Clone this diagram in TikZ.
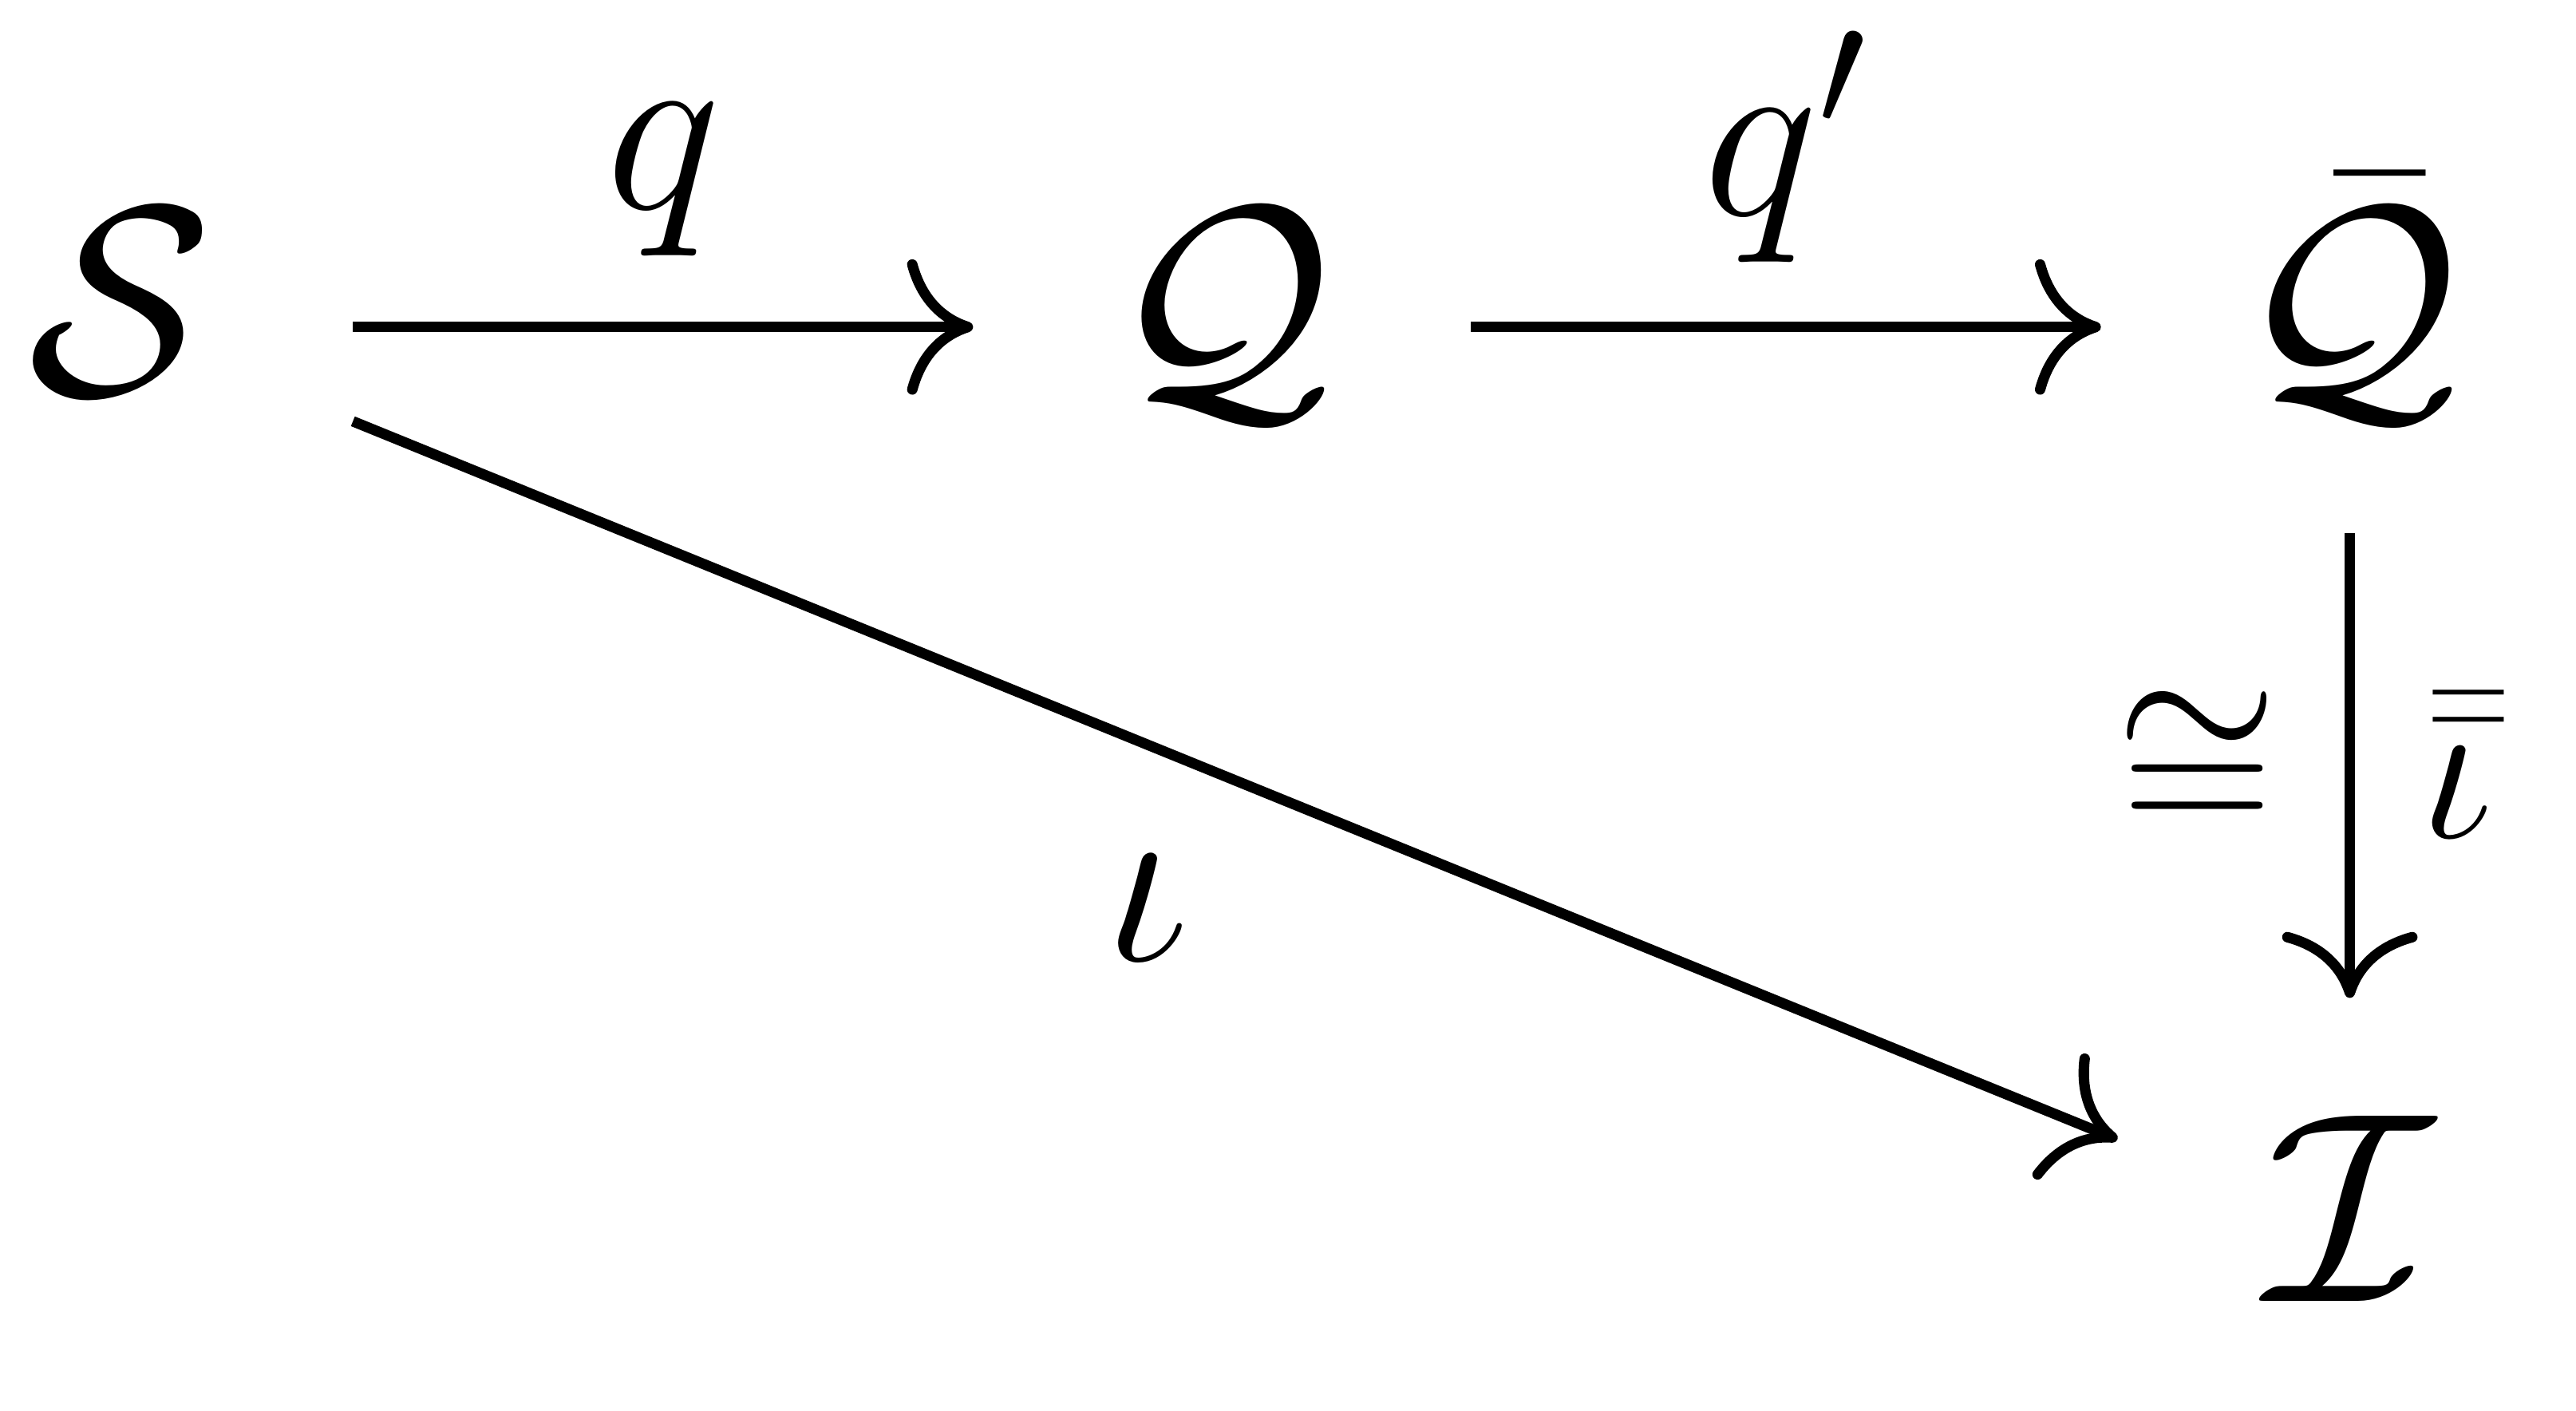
\RequirePackage{fix-cm}
\documentclass[tikz,border=0pt]{standalone}
\usepackage{amsmath}
\usepackage{tikz}
\usetikzlibrary{arrows.meta}
\tikzstyle{object} = [font=\fontsize{46.7}{56}\selectfont, rectangle, inner sep=0pt, text height=32.7pt, text depth=9.3pt, minimum width=3cm, minimum height=2.48cm]
\tikzstyle{maplabel} = [font=\fontsize{42}{50}\selectfont, inner sep=0.4cm]
\tikzstyle{sidelabel} = [font=\fontsize{36}{43}\selectfont, inner sep=0.4cm]
\tikzstyle{arrow} = [line width=1.8pt, -{Computer Modern Rightarrow[length=4mm,width=8.2mm]}]

\begin{document}
\begin{tikzpicture}
  \useasboundingbox (-0.73,-6.56) rectangle (14.87,1.98);
  \node (S) [object, minimum width=2.8cm] {$\mathcal{S}$};
  \node (Q) [object, right of=S, xshift=5.67cm] {$\mathcal{Q}$};
  \node (Qbar) [object, right of=Q, xshift=5.83cm] {$\bar{\mathcal{Q}}$};
  \node (I) [object, below of=Qbar, yshift=-4.49cm, minimum width=2.8cm, minimum height=2.84cm] {$\mathcal{I}$};
  \draw[arrow](S) -- node[maplabel, above]{$q$} (Q);
  \draw[arrow](Q) -- node[maplabel, above, inner sep=0.36cm]{$q'$} (Qbar);
  \draw[arrow](Qbar) -- node[sidelabel, left]{$\cong$} node[sidelabel, right]{$\bar{\bar{\iota}}$} (I);
  \draw[arrow](S) -- node[maplabel, below=0.24cm, pos=0.45]{$\iota$} (I);
\end{tikzpicture}
\end{document}
